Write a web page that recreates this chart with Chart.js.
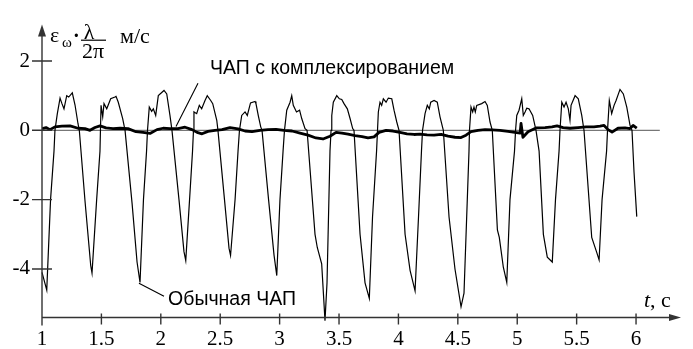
<!DOCTYPE html>
<html>
<head>
<meta charset="utf-8">
<script src="https://cdn.jsdelivr.net/npm/chart.js@4.4.1/dist/chart.umd.min.js"></script>
<style>
html, body { margin: 0; padding: 0; background: #fff; }
#wrap { width: 693px; height: 349px; }
</style>
</head>
<body>
<div id="wrap"><canvas id="myChart" width="693" height="349"></canvas></div>
<script>
// axis ticks
var xTicks = [1, 1.5, 2, 2.5, 3, 3.5, 4, 4.5, 5, 5.5, 6];
var yTicks = [-4, -2, 0, 2];

// "Обычная ЧАП" (thin line), time in s, value in m/s
var plainTime = [
  1.000, 1.040, 1.072, 1.101, 1.109, 1.129, 1.152, 1.168, 1.185, 1.208, 1.225, 1.255, 1.278, 1.303, 1.314, 1.362, 1.410,
  1.421, 1.460, 1.488, 1.492, 1.497, 1.511, 1.522, 1.545, 1.578, 1.614, 1.623, 1.642, 1.679, 1.699, 1.758, 1.800,
  1.825, 1.854, 1.880, 1.888, 1.903, 1.923, 1.937, 1.957, 1.979, 2.027, 2.050, 2.077, 2.094, 2.153, 2.195,
  2.210, 2.242, 2.267, 2.275, 2.279, 2.302, 2.324, 2.344, 2.372, 2.391, 2.420, 2.437, 2.471, 2.481, 2.536, 2.574,
  2.587, 2.625, 2.650, 2.662, 2.681, 2.709, 2.728, 2.755, 2.793, 2.801, 2.821, 2.841, 2.852, 2.907, 2.953,
  2.976, 3.003, 3.029, 3.041, 3.060, 3.088, 3.102, 3.115, 3.142, 3.168, 3.186, 3.214, 3.231, 3.298, 3.317, 3.354,
  3.382, 3.399, 3.424, 3.433, 3.439, 3.452, 3.481, 3.503, 3.523, 3.542, 3.570, 3.593, 3.615, 3.626, 3.677, 3.719,
  3.755, 3.782, 3.816, 3.824, 3.831, 3.845, 3.859, 3.873, 3.896, 3.915, 3.944, 3.963, 3.986, 4.005, 4.056, 4.098,
  4.140, 4.169, 4.194, 4.203, 4.224, 4.243, 4.260, 4.272, 4.300, 4.327, 4.350, 4.378, 4.426, 4.476,
  4.527, 4.552, 4.594, 4.598, 4.611, 4.625, 4.636, 4.647, 4.659, 4.701, 4.729, 4.748, 4.771, 4.790, 4.833, 4.849, 4.883,
  4.912, 4.939, 4.977, 4.986, 4.996, 5.015, 5.038, 5.051, 5.066, 5.080, 5.099, 5.130, 5.158, 5.184, 5.220, 5.253,
  5.295, 5.322, 5.352, 5.360, 5.375, 5.394, 5.411, 5.430, 5.444, 5.453, 5.487, 5.514, 5.543, 5.562, 5.627, 5.669,
  5.689, 5.714, 5.752, 5.760, 5.775, 5.795, 5.815, 5.832, 5.865, 5.893, 5.922, 5.949, 5.966, 5.983, 6.006
];
var plainValue = [
  -4.1, -4.61, -2.0, -0.6, 0, 0.48, 0.93, 0.77, 0.62, 1.0, 0.96, 1.08, 0.73, 0.19, 0, -2.04, -3.9,
  -4.12, -2.0, -0.6, 0, 0.72, 0.39, 0.77, 0.62, 0.91, 0.96, 0.98, 0.81, 0.34, 0, -2.1, -3.8,
  -4.39, -2.0, -0.6, 0, 0.67, 0.55, 0.62, 0.43, 1.0, 1.15, 1.05, 0.43, 0, -2.0, -3.5,
  -3.76, -2.0, -0.6, 0, 0.53, 0.48, 0.72, 0.62, 0.86, 1.0, 0.86, 0.77, 0.29, 0, -2.0, -3.4,
  -3.61, -2.0, -0.6, 0, 0.43, 0.53, 0.43, 0.79, 0.83, 0.77, 0.42, 0.1, 0, -2.0, -3.6,
  -4.19, -2.0, -0.6, 0, 0.58, 0.81, 1.0, 0.72, 0.53, 0.58, 0.34, 0.05, 0, -3.0, -3.38, -3.85,
  -5.49, -4.4, -0.6, 0, 0.43, 0.81, 1.0, 0.91, 0.89, 0.77, 0.62, 0.34, 0.05, 0, -3.0, -4.4,
  -4.85, -2.5, -0.6, 0, 0.53, 0.81, 0.72, 0.91, 0.81, 0.93, 0.91, 0.58, 0.24, 0, -3.0, -4.04,
  -4.63, -2.5, -0.6, 0, 0.48, 0.72, 0.62, 0.81, 0.86, 0.81, 0.39, 0, -2.5, -4.0,
  -5.09, -4.7, -0.6, 0, 0.67, 0.53, 0.67, 0.53, 0.72, 0.77, 0.83, 0.72, 0.24, 0, -2.87, -3.09, -3.95,
  -4.39, -2.0, -0.6, 0, 0.43, 0.58, 0.91, 0.43, 0.53, 0.64, 0.62, 0.43, 0, -0.6, -3.0, -3.66,
  -3.80, -2.0, -0.6, 0, 0.81, 0.67, 0.81, 0.62, 0.29, 0.72, 1.0, 0.91, 0.43, 0, -3.09, -3.52,
  -3.74, -2.0, -0.6, 0, 0.86, 0.48, 0.72, 0.86, 1.18, 1.05, 0.67, 0.15, 0, -1.2, -2.49
];

// "ЧАП с комплексированием" (thick line)
var fusedTime = [
  1.000, 1.034, 1.067, 1.109, 1.168, 1.236, 1.303, 1.362, 1.404, 1.446, 1.488, 1.539, 1.598, 1.657, 1.724, 1.791,
  1.850, 1.909, 1.968, 2.019, 2.077, 2.145, 2.204, 2.263, 2.305, 2.347, 2.397, 2.456, 2.515, 2.582, 2.650, 2.709,
  2.768, 2.835, 2.902, 2.970, 3.037, 3.104, 3.172, 3.239, 3.306, 3.365, 3.424, 3.475, 3.525, 3.576, 3.635, 3.694,
  3.744, 3.795, 3.837, 3.896, 3.955, 4.013, 4.072, 4.131, 4.182, 4.241, 4.300, 4.359, 4.418, 4.476, 4.527, 4.569,
  4.611, 4.670, 4.729, 4.788, 4.855, 4.923, 4.980, 5.024, 5.032, 5.048, 5.091, 5.158, 5.234, 5.293, 5.335, 5.386,
  5.444, 5.512, 5.579, 5.646, 5.697, 5.731, 5.764, 5.798, 5.848, 5.907, 5.949, 5.975, 6.006
];
var fusedValue = [
  0.05, 0.08, 0.02, 0.1, 0.12, 0.13, 0.06, 0.05, 0.0, 0.08, 0.13, 0.07, 0.05, 0.06, 0.05, -0.04,
  -0.06, -0.09, 0.02, 0.06, 0.05, 0.05, 0.09, 0.02, -0.06, -0.1, -0.03, 0.0, 0.02, 0.08, 0.04, -0.02,
  -0.04, 0.0, 0.02, 0.03, 0.0, -0.02, -0.08, -0.14, -0.22, -0.25, -0.17, -0.06, -0.08, -0.11, -0.15, -0.18,
  -0.22, -0.19, -0.06, 0.0, -0.02, -0.06, -0.1, -0.12, -0.11, -0.13, -0.14, -0.12, -0.17, -0.2, -0.21, -0.14,
  -0.04, 0.0, 0.02, 0.01, 0.0, -0.03, -0.06, -0.08, 0.2, -0.2, -0.04, 0.07, 0.08, 0.1, 0.13, 0.08,
  0.06, 0.08, 0.1, 0.1, 0.12, 0.14, 0.02, -0.05, 0.06, 0.07, 0.05, 0.14, 0.06
];

// zero reference line
var zeroTime = [1, 6.2];
var zeroValue = [0, 0];

function pts(xs, ys) {
  return xs.map(function (x, i) { return { x: x, y: ys[i] }; });
}

var serif = '"Liberation Serif", "Times New Roman", serif';
var sans = '"Liberation Sans", Arial, sans-serif';

var frame = {
  id: 'frame',
  afterDraw: function (chart) {
    var c = chart.ctx;
    var sx = chart.scales.x, sy = chart.scales.y;
    var ax = sx.getPixelForValue(sx.min);
    var ay = sy.getPixelForValue(sy.min);
    var top = sy.getPixelForValue(sy.max);
    var right = sx.getPixelForValue(sx.max);
    function px(x) { return sx.getPixelForValue(x); }
    function py(y) { return sy.getPixelForValue(y); }

    c.save();
    c.strokeStyle = '#333';
    c.fillStyle = '#333';
    c.lineWidth = 1.4;
    c.beginPath();
    c.moveTo(ax, ay + 8); c.lineTo(ax, top + 8);
    c.moveTo(ax, ay); c.lineTo(right - 8, ay);
    yTicks.forEach(function (v) { var p = py(v); c.moveTo(ax - 10, p); c.lineTo(ax + 10, p); });
    xTicks.forEach(function (v) { var p = px(v); c.moveTo(p, ay - 4); c.lineTo(p, ay + 7); });
    c.stroke();
    c.beginPath(); c.moveTo(ax, top); c.lineTo(ax - 4, top + 12); c.lineTo(ax + 4, top + 12); c.closePath(); c.fill();
    c.beginPath(); c.moveTo(right + 1, ay); c.lineTo(right - 11, ay - 3.5); c.lineTo(right - 11, ay + 3.5); c.closePath(); c.fill();

    // leader lines
    c.strokeStyle = '#000';
    c.lineWidth = 1.1;
    c.beginPath();
    c.moveTo(px(2.313), py(1.36)); c.lineTo(px(2.128), py(0.11));
    c.moveTo(px(1.816), py(-4.41)); c.lineTo(px(2.027), py(-4.79));
    c.stroke();

    c.fillStyle = '#000';
    c.textBaseline = 'alphabetic';
    c.font = '19.5px ' + sans;
    c.fillText('ЧАП с комплексированием', px(2.414), py(1.62));
    c.fillText('Обычная ЧАП', px(2.061), py(-5.04));

    // y axis title
    c.font = '22px ' + serif;
    c.fillText('ε', ax + 8, top + 17);
    c.font = '15px ' + serif;
    c.fillText('ω', ax + 20, top + 22);
    c.font = 'bold 20px ' + serif;
    c.fillText('·', ax + 31, top + 17);
    c.textAlign = 'center';
    c.font = '22px ' + serif;
    c.fillText('λ', ax + 47, top + 14);
    c.fillText('2π', ax + 51, top + 33);
    c.fillRect(ax + 39, top + 15, 25, 1.2);
    c.textAlign = 'left';
    c.fillText('м/с', ax + 78, top + 18.5);

    // x axis title
    c.font = 'italic 22px ' + serif;
    c.fillText('t', right - 36, ay - 11);
    c.font = '22px ' + serif;
    c.fillText(', с', right - 30, ay - 11);
    c.restore();
  }
};

var ctx = document.getElementById('myChart').getContext('2d');
var myChart = new Chart(ctx, {
  type: 'line',
  data: {
    datasets: [
      { label: 'ЧАП с комплексированием', data: pts(fusedTime, fusedValue), borderColor: '#000', borderWidth: 2.8, pointRadius: 0, tension: 0, borderJoinStyle: 'round' },
      { label: 'Обычная ЧАП', data: pts(plainTime, plainValue), borderColor: '#000', borderWidth: 1.2, pointRadius: 0, tension: 0, clip: false },
      { label: '0', data: pts(zeroTime, zeroValue), borderColor: '#777', borderWidth: 1.3, pointRadius: 0, tension: 0 }
    ]
  },
  options: {
    responsive: false,
    animation: false,
    events: [],
    layout: { padding: { left: 0, top: 22, right: 13, bottom: 0 } },
    plugins: { legend: { display: false }, tooltip: { enabled: false } },
    scales: {
      x: {
        type: 'linear', min: 1, max: 6.37,
        afterBuildTicks: function (s) { s.ticks = xTicks.map(function (v) { return { value: v }; }); },
        afterFit: function (s) { s.height = 31.5; },
        grid: { display: false, drawTicks: false },
        border: { display: false },
        ticks: { padding: 9, color: '#000', font: { family: serif, size: 21 }, maxRotation: 0, autoSkip: false,
          callback: function (v) { return String(v); } }
      },
      y: {
        type: 'linear', min: -5.4, max: 3.05,
        afterBuildTicks: function (s) { s.ticks = yTicks.map(function (v) { return { value: v }; }); },
        afterFit: function (s) { s.width = 42; },
        grid: { display: false, drawTicks: false },
        border: { display: false },
        ticks: { padding: 12, color: '#000', font: { family: serif, size: 21 },
          callback: function (v) { return String(v); } }
      }
    }
  },
  plugins: [frame]
});
</script>
</body>
</html>
